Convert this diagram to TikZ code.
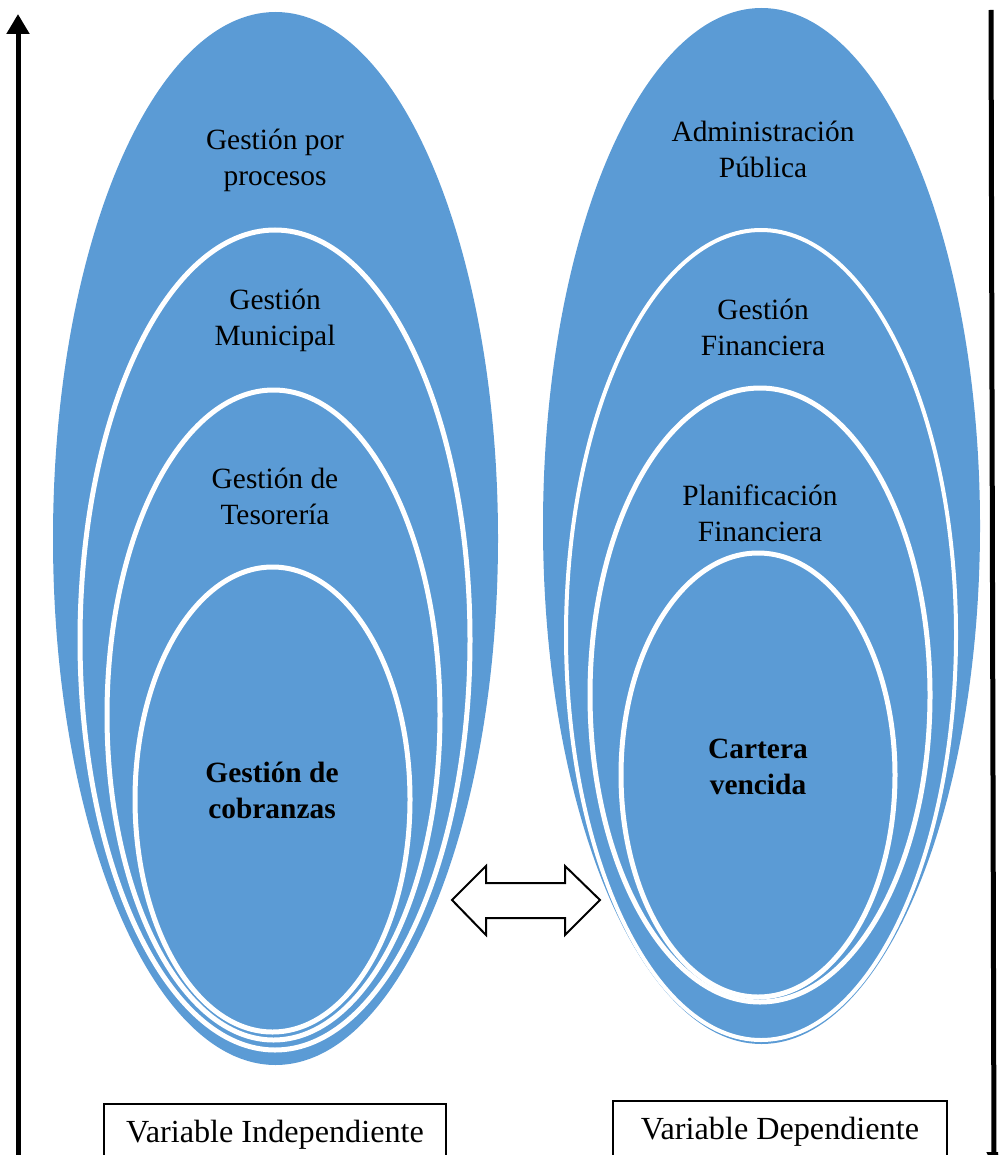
\documentclass[tikz,border=0pt]{standalone}
\usepackage{fontspec}
\setmainfont{Liberation Serif}
\usetikzlibrary{arrows.meta, positioning}
\definecolor{officeblue}{HTML}{5B9BD5}

\begin{document}
\begin{tikzpicture}[x=0.5pt, y=-0.5pt,
    blob/.style={fill=officeblue},
    ring/.style={fill=officeblue, draw=white, line width=2.5pt},
    label/.style={align=center, font=\fontsize{14.7}{18}\selectfont, inner sep=0pt},
    varbox/.style={draw=black, line width=0.9pt, font=\fontsize{16.1}{19}\selectfont, minimum height=31pt}]
      \clip (0, 0) rectangle (998, 1155);

      % left side
      \fill[blob] (275.5, 538.5) ellipse [x radius=222.5, y radius=526.5];
      \filldraw[ring] (275, 640) ellipse [x radius=195, y radius=410];
      \filldraw[ring] (273.5, 715) ellipse [x radius=166.5, y radius=325];
      \filldraw[ring] (272.5, 799.5) ellipse [x radius=137.5, y radius=232.5];

      \node[label] (procesos) at (275, 160) {Gestión por\\procesos};
      \node[label] (municipal) at (275, 320) {Gestión\\Municipal};
      \node[label] (tesoreria) at (275, 496) {Gestión de\\Tesorería};
      \node[label, font=\fontsize{14.7}{18}\selectfont\bfseries] (cobranzas) at (272, 790) {Gestión de\\cobranzas};

      % right side
      \fill[blob] (761.5, 526) ellipse [x radius=218.5, y radius=518];
      \filldraw[ring, line width=2pt] (761, 635) ellipse [x radius=195, y radius=405];
      \filldraw[ring] (760, 695) ellipse [x radius=170, y radius=307];
      \filldraw[ring] (758, 775) ellipse [x radius=137, y radius=222];

      \node[label] (admin) at (763, 149) {Administración\\Pública};
      \node[label] (financiera) at (763, 327) {Gestión\\Financiera};
      \node[label] (planif) at (760, 513) {Planificación\\Financiera};
      \node[label, font=\fontsize{14.7}{18}\selectfont\bfseries] (cartera) at (758, 767) {Cartera\\vencida};

      % double arrow between the two
      \draw[line width=1pt, line join=miter] (452, 900) -- (486, 866) -- (486, 883) -- (565, 883) -- (565, 866) -- (600, 900)
        -- (565, 935) -- (565, 918) -- (486, 918) -- (486, 935) -- cycle;

      % axes
      \coordinate (lbot) at (18, 1160);
      \coordinate (ltop) at (18, 14);
      \draw[line width=2.5pt, -{Triangle[width=11pt, length=10pt]}] (lbot) -- (ltop);
      \coordinate (rtop) at (991, 10);
      \coordinate (rbot) at (994, 1168);
      \draw[line width=2.5pt, -{Triangle[width=7pt, length=8pt]}] (rtop) -- (rbot);

      % variable boxes
      \node[varbox, minimum width=171pt] (indep) at (275, 1135) {Variable Independiente};
      \node[varbox, minimum width=167pt] (dep) at (780, 1132) {Variable Dependiente};
    \end{tikzpicture}
\end{document}
